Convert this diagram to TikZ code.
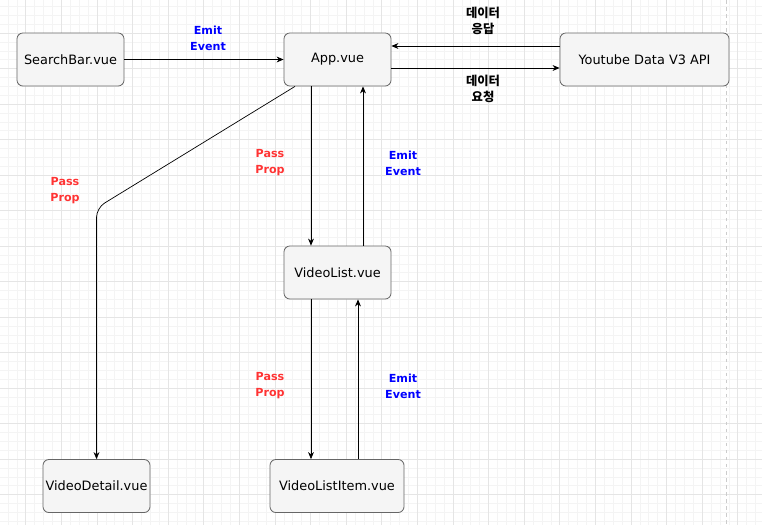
\documentclass[tikz,border=0pt]{standalone}
\usepackage{fontspec}
\setmainfont{DejaVu Sans}
\newfontfamily\kofont{Noto Sans CJK KR}
\usetikzlibrary{arrows.meta,calc}
\definecolor{boxfill}{HTML}{F5F5F5}
\definecolor{boxline}{HTML}{666666}
\definecolor{emitblue}{HTML}{0000FF}
\definecolor{passred}{HTML}{FF3333}

\begin{document}
\begin{tikzpicture}[x=0.03cm,y=-0.03cm,
    comp/.style={draw=boxline,line width=0.7pt,fill=boxfill,rounded corners=5pt,minimum width=3.21cm,minimum height=1.59cm,inner sep=0pt,font=\fontsize{11}{12}\selectfont},
    flow/.style={-{Stealth[length=6pt,width=5pt]},line width=0.6pt},
    emit/.style={align=center,text=emitblue,font=\fontsize{9.5}{13.6}\selectfont\bfseries},
    pass/.style={align=center,text=passred,font=\fontsize{9.5}{13.6}\selectfont\bfseries},
    kolabel/.style={align=center,font=\kofont\fontsize{10.5}{13.6}\selectfont\bfseries}]
            \useasboundingbox (0,0) rectangle (762,525);
            % grid
            \foreach \i in {0,...,86} \draw[gray!9] (-9.9+8.9*\i,0) -- (-9.9+8.9*\i,525);
            \foreach \i in {0,...,60} \draw[gray!9] (0,-2.5+8.875*\i) -- (762,-2.5+8.875*\i);
            \foreach \i in {0,...,21} \draw[gray!20] (-9.9+35.6*\i,0) -- (-9.9+35.6*\i,525);
            \foreach \i in {0,...,15} \draw[gray!20] (0,-2.5+35.5*\i) -- (762,-2.5+35.5*\i);
            \draw[gray!40,dashed] (726,0) -- (726,525);
            % components
            \node[comp] (sb) at (70.5,59.5) {SearchBar.vue};
            \node[comp] (app) at (337.5,59.5) {App.vue};
            \node[comp,minimum width=5.07cm] (yt) at (644.5,59.5) {Youtube Data V3 API};
            \node[comp] (vl) at (337.5,272.5) {VideoList.vue};
            \node[comp] (vd) at (96.5,486) {VideoDetail.vue};
            \node[comp,minimum width=4.02cm] (vli) at (337,486) {VideoListItem.vue};
            % connectors
            \draw[flow] (sb) -- (app);
            \node[emit] (l1) at (208,38) {Emit\\Event};
            \draw[flow] ($(yt.west)+(0,-13.5)$) -- ($(app.east)+(0,-13.5)$);
            \node[kolabel] (l2) at (483,21) {데이터\\응답};
            \draw[flow] ($(app.east)+(0,8.5)$) -- ($(yt.west)+(0,8.5)$);
            \node[kolabel] (l3) at (483,89) {데이터\\요청};
            \draw[flow] ($(app.south)+(-26.5,0)$) -- ($(vl.north)+(-26.5,0)$);
            \node[pass] (l4) at (270,163) {Pass\\Prop};
            \draw[flow] ($(vl.north)+(25.5,0)$) -- ($(app.south)+(25.5,0)$);
            \node[emit] (l5) at (403,163) {Emit\\Event};
            \draw[flow] ($(vl.south)+(-26.5,0)$) -- ($(vli.north)+(-26,0)$);
            \node[pass] (l6) at (270,386) {Pass\\Prop};
            \draw[flow] ($(vli.north)+(21,0)$) -- ($(vl.south)+(20.5,0)$);
            \node[emit] (l7) at (403,386) {Emit\\Event};
            \draw[flow,rounded corners=8pt] ($(app.south)+(-42.5,0)$) -- (vd.north |- 0,208) -- (vd.north);
            \node[pass] (l8) at (65,191) {Pass\\Prop};
        \end{tikzpicture}
\end{document}
